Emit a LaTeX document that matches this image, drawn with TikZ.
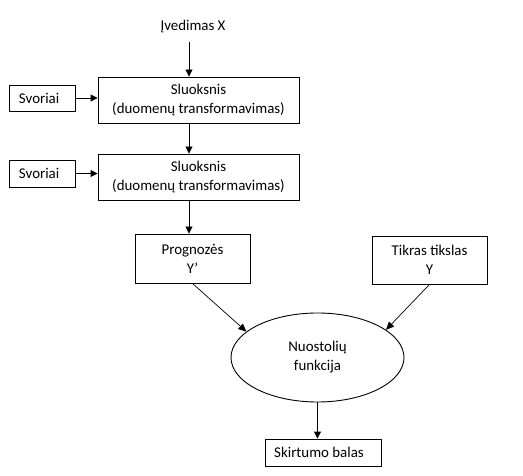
\documentclass[tikz,border=0pt]{standalone}
\usepackage{fontspec}
\setmainfont{Carlito}
\usetikzlibrary{arrows.meta,shapes.geometric}
\begin{document}
\begin{tikzpicture}[x=1pt,y=-1pt,
  txt/.style={font=\fontsize{14.9}{19}\selectfont,align=center},
  box/.style={txt,draw,line width=0.9pt,rectangle,inner sep=0pt},
  arr/.style={-{Triangle[length=7pt,width=7pt]},line width=0.9pt},
  darr/.style={-{Triangle[length=8pt,width=7pt]},line width=0.7pt}]
\useasboundingbox (0,0) rectangle (523,476);
\node[txt,inner sep=0pt] (in) at (193,27) {Įvedimas X};
\node[box,minimum width=201pt,minimum height=46pt] (s1) at (198.5,100) {Sluoksnis\\(duomenų transformavimas)};
\node[box,minimum width=201pt,minimum height=46pt] (s2) at (198.5,177) {Sluoksnis\\(duomenų transformavimas)};
\node[box,minimum width=66pt,minimum height=26pt,text width=60pt,align=left,inner xsep=0pt] (w1) at (42,98) {\hspace{7pt}Svoriai};
\node[box,minimum width=66pt,minimum height=27pt,text width=60pt,align=left,inner xsep=0pt] (w2) at (42,173.5) {\hspace{7pt}Svoriai};
\node[box,minimum width=115pt,minimum height=49pt] (p) at (192.5,258.5) {Prognozės\\Y’};
\node[box,minimum width=115pt,minimum height=48pt] (t) at (429.5,260) {Tikras tikslas\\Y};
\node[txt,draw,ellipse,line width=0.9pt,inner sep=0pt,minimum width=173pt,minimum height=89pt] (e) at (317.5,357.5) {Nuostolių\\funkcija};
\node[box,minimum width=116pt,minimum height=27pt] (sk) at (323,452.5) {Skirtumo balas\hspace{8pt}};
\coordinate (a0) at ([xshift=-9.5pt]s1.north);
\draw[arr] (a0 |- 0,42) -- (a0);
\draw[arr] ([xshift=-9.5pt]s1.south) -- ([xshift=-9.5pt]s2.north);
\draw[arr] ([xshift=-9.5pt]s2.south) -- ([xshift=-9.5pt]s2.south |- p.north);
\draw[arr] (w1.east) -- (s1.west |- w1.east);
\draw[arr] (w2.east) -- (s2.west |- w2.east);
\draw[darr] (p.south) -- (e.160);
\draw[darr] (t.south) -- (e.22);
\draw[arr] (e.south) -- (e.south |- sk.north);
\end{tikzpicture}
\end{document}
